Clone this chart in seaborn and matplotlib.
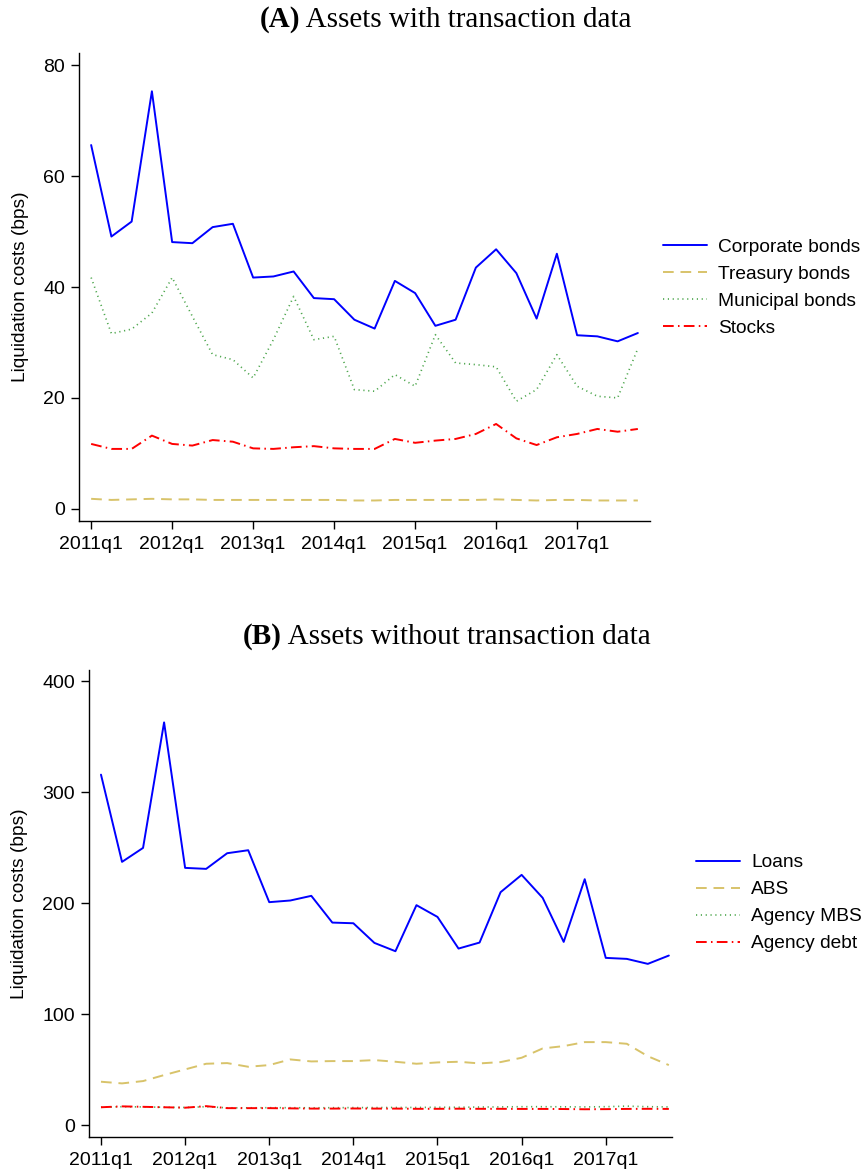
import numpy as np
import pandas as pd
import matplotlib
matplotlib.use("Agg")
import matplotlib.pyplot as plt
import matplotlib.text as mtext
import seaborn as sns

# ---------------- data ----------------
quarters = [f"{y}q{q}" for y in range(2011, 2018) for q in range(1, 5)]
tick_labels = ["2011q1", "2012q1", "2013q1", "2014q1", "2015q1", "2016q1", "2017q1"]

corporate_bonds = [65.6, 49.1, 51.8, 75.3, 48.1, 47.9, 50.8, 51.4, 41.7, 41.9, 42.8, 38.0, 37.8, 34.1,
                   32.5, 41.1, 38.9, 33.0, 34.1, 43.5, 46.8, 42.5, 34.3, 46.0, 31.3, 31.1, 30.2, 31.7]
treasury_bonds = [1.8, 1.6, 1.7, 1.8, 1.7, 1.7, 1.6, 1.6, 1.6, 1.6, 1.6, 1.6, 1.6, 1.5,
                  1.5, 1.6, 1.6, 1.6, 1.6, 1.6, 1.7, 1.6, 1.5, 1.6, 1.6, 1.5, 1.5, 1.5]
municipal_bonds = [41.7, 31.6, 32.4, 35.3, 41.7, 34.7, 27.8, 26.9, 23.6, 30.5, 38.3, 30.5, 31.1, 21.5,
                   21.2, 24.2, 22.1, 31.4, 26.3, 26.0, 25.6, 19.4, 21.5, 27.8, 22.1, 20.3, 20.0, 28.9]
stocks = [11.7, 10.8, 10.8, 13.2, 11.7, 11.4, 12.4, 12.1, 10.9, 10.8, 11.1, 11.3, 10.9, 10.8,
          10.8, 12.6, 11.9, 12.3, 12.6, 13.5, 15.3, 12.7, 11.5, 12.9, 13.5, 14.4, 13.9, 14.4]

loans = [315.7, 237.1, 249.7, 362.8, 231.7, 230.8, 244.9, 247.6, 200.8, 202.3, 206.5, 182.4, 181.8, 164.1,
         156.6, 198.1, 187.5, 159.0, 164.4, 209.8, 225.4, 204.7, 165.0, 221.5, 150.6, 149.7, 145.2, 152.7]
abs_ = [39.0, 37.5, 39.6, 45.0, 50.1, 55.2, 55.8, 52.5, 54.0, 59.1, 57.3, 57.6, 57.6, 58.5,
        57.0, 55.2, 56.4, 57.0, 55.5, 56.7, 60.6, 69.0, 71.1, 74.7, 74.7, 73.2, 62.0, 54.0]
agency_mbs = [16.0, 16.5, 16.3, 16.0, 15.8, 16.5, 15.5, 15.5, 15.6, 15.6, 15.5, 15.6, 15.7, 15.7,
              15.8, 15.8, 16.0, 16.0, 16.2, 16.3, 16.5, 16.5, 16.4, 16.3, 16.5, 17.0, 16.5, 16.3]
agency_debt = [16.0, 16.8, 16.4, 16.0, 15.6, 17.0, 15.2, 15.2, 15.2, 15.0, 14.8, 14.8, 14.9, 14.8,
               14.8, 14.6, 14.6, 14.7, 14.6, 14.6, 14.5, 14.5, 14.4, 14.2, 14.3, 14.5, 14.6, 14.5]

# ---------------- style ----------------
sns.set_theme(style="ticks")
plt.rcParams["font.family"] = ["Liberation Sans", "DejaVu Sans"]
plt.rcParams.update({
    "axes.linewidth": 1.0, "axes.edgecolor": "black", "text.color": "black",
    "axes.labelcolor": "black", "xtick.color": "black", "ytick.color": "black",
})

BLUE = "#0000FF"
SAND = "#D8C36A"
GREEN = "#4DA64D"
RED = "#FF0000"

styles = {
    "solid": dict(color=BLUE, linestyle="-", linewidth=1.4),
    "dash": dict(color=SAND, linestyle=(0, (5.5, 3.5)), linewidth=1.4),
    "dot": dict(color=GREEN, linestyle=(0, (0.7, 2.2)), linewidth=1.2),
    "dashdot": dict(color=RED, linestyle=(0, (5.5, 2.2, 0.8, 2.2)), linewidth=1.4),
}

FS = 13.8

fig = plt.figure(figsize=(8.65, 11.7), dpi=100)
axA = fig.add_axes([79 / 865, 1 - 521 / 1170, 571 / 865, 468 / 1170])
axB = fig.add_axes([89 / 865, 1 - 1137 / 1170, 583 / 865, 467 / 1170])

x = np.arange(len(quarters))

def draw(ax, series, names, kinds):
    for s, n, k in zip(series, names, kinds):
        df = pd.DataFrame({"t": x, "v": s})
        sns.lineplot(data=df, x="t", y="v", ax=ax, label=n, **styles[k])
    ax.set_xticks(x[::4])
    ax.set_xticklabels(tick_labels)
    ax.set_xlabel("")
    ax.set_ylabel("Liquidation costs (bps)", fontsize=FS, labelpad=10)
    ax.tick_params(axis="both", direction="out", length=6, width=1, labelsize=14, pad=4)
    ax.tick_params(axis="x", pad=5)
    for sp in ["top", "right"]:
        ax.spines[sp].set_visible(False)

draw(axA, [corporate_bonds, treasury_bonds, municipal_bonds, stocks],
     ["Corporate bonds", "Treasury bonds", "Municipal bonds", "Stocks"],
     ["solid", "dash", "dot", "dashdot"])
axA.set_xlim(-0.6, 27.6)
axA.set_ylim(-2.2, 82.2)
axA.set_yticks([0, 20, 40, 60, 80])

draw(axB, [loans, abs_, agency_mbs, agency_debt],
     ["Loans", "ABS", "Agency MBS", "Agency debt"],
     ["solid", "dash", "dot", "dashdot"])
axB.set_xlim(-0.57, 27.15)
axB.set_ylim(-10.8, 410)
axB.set_yticks([0, 100, 200, 300, 400])

for ax, xa, ya in [(axA, 659 / 865, 1 - 288 / 1170), (axB, 692 / 865, 1 - 903 / 1170)]:
    ax.legend(loc="center left", bbox_to_anchor=(xa, ya), bbox_transform=fig.transFigure,
              frameon=False, fontsize=FS, handlelength=2.3, handletextpad=0.6,
              labelspacing=0.5, borderaxespad=0, borderpad=0.2)

# titles
serif = ["Liberation Serif", "DejaVu Serif"]
TFS = 21
for (xl, yb, lab, rest) in [(260, 27, "(A)", " Assets with transaction data"),
                            (243, 644, "(B)", " Assets without transaction data")]:
    t1 = fig.text(xl / 865, 1 - yb / 1170, lab, family=serif, weight="bold", fontsize=TFS,
                  ha="left", va="baseline")
    fig.add_artist(mtext.Annotation(rest, xy=(1, 0), xycoords=t1, xytext=(0, 0),
                                    textcoords="offset points", va="bottom", ha="left",
                                    family=serif, fontsize=TFS))

fig.savefig("out.png", dpi=100)
